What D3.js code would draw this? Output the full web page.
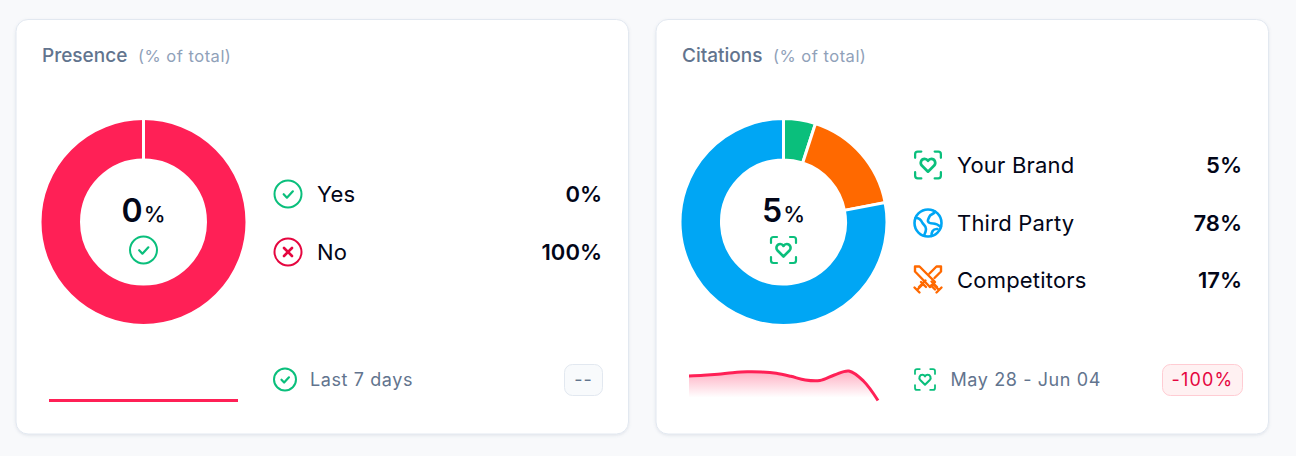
<!DOCTYPE html>
<html><head><meta charset="utf-8">
<script src="https://cdnjs.cloudflare.com/ajax/libs/d3/7.8.5/d3.min.js"></script>
<style>html,body{margin:0;padding:0;background:#f8f9fb;overflow:hidden}svg{display:block;font-family:Inter,sans-serif}</style>
</head><body><svg id="c" width="1296" height="456"></svg>
<script>
const presenceLabels = ["Yes","No"];
const presenceValues = [0,100];
const citationLabels = ["Your Brand","Third Party","Competitors"];
const citationValues = [5,78,17];
const citationDonutOrder = [0,2,1];
const presenceTrend = [0,0,0,0,0,0,0,0];
const citationTrend = [24.5,25.2,26.3,27.8,28.7,28.5,27.2,24.2,20.5,20,25.5,29.5,19.5,0];
const footerLabels = ["Last 7 days","May 28 - Jun 04"];
const badgeLabels = ["--","-100%"];
const titles = ["Presence","Citations"];
const subtitle = "(% of total)";

const GREEN="#0abf7c", RED="#ff2056", CRIM="#e5063f", BLUE="#00a6f4", ORANGE="#ff6900", INK="#020618", SLATE="#62748e", MUTE="#90a1b9";
const svg=d3.select("#c");
const defs=svg.append("defs");
const f=defs.append("filter").attr("id","sh").attr("x","-5%").attr("y","-5%").attr("width","110%").attr("height","110%");
f.append("feDropShadow").attr("dx",0).attr("dy",1).attr("stdDeviation",1.5).attr("flood-color","#64748b").attr("flood-opacity",.16);
const g=defs.append("linearGradient").attr("id","sp").attr("x1",0).attr("y1",0).attr("x2",0).attr("y2",1);
g.append("stop").attr("offset",0).attr("stop-color",RED).attr("stop-opacity",.36);
g.append("stop").attr("offset",.9).attr("stop-color",RED).attr("stop-opacity",0);

function check(s,x,y,r){
  const i=s.append("g").attr("transform",`translate(${x},${y})`).attr("fill","none").attr("stroke",GREEN);
  i.append("circle").attr("r",r).attr("stroke-width",2);
  i.append("path").attr("d",`M${-r*.32} ${r*.02}L${-r*.08} ${r*.27}L${r*.36} ${-r*.2}`).attr("stroke-width",2.2).attr("stroke-linecap","round").attr("stroke-linejoin","round");
}
function cross(s,x,y,r){
  const i=s.append("g").attr("transform",`translate(${x},${y})`).attr("fill","none").attr("stroke",CRIM);
  i.append("circle").attr("r",r).attr("stroke-width",2);
  i.append("path").attr("d",`M-4 -4L4 4M4 -4L-4 4`).attr("stroke-width",2.6).attr("stroke-linecap","round");
}
function face(s,x,y,k){
  const i=s.append("g").attr("transform",`translate(${x},${y}) scale(${k})`).attr("fill","none").attr("stroke",GREEN).attr("stroke-width",2.2).attr("stroke-linecap","round").attr("stroke-linejoin","round");
  i.append("path").attr("d","M-12.5 -7V-10.5Q-12.5 -13 -10 -13H-6.5M6.5 -13H10Q12.5 -13 12.5 -10.5V-7M12.5 7V10.5Q12.5 13 10 13H6.5M-6.5 13H-10Q-12.5 13 -12.5 10.5V7");
  i.append("path").attr("d","M0 6.5L-6 0.5C-8.2 -2 -6.6 -6 -3.3 -6C-1.6 -6 -0.6 -5 0 -4C0.6 -5 1.6 -6 3.3 -6C6.6 -6 8.2 -2 6 0.5Z").attr("stroke-width",2.6);
}
function globe(s,x,y){
  const i=s.append("g").attr("transform",`translate(${x},${y})`).attr("fill","none").attr("stroke",BLUE).attr("stroke-width",2.6).attr("stroke-linejoin","round").attr("stroke-linecap","round");
  i.append("circle").attr("r",13.5);
  i.append("path").attr("d","M-12.5 -5C-8 -5.5 -6.5 -2 -5.5 0C-4 2.5 -2 2.5 -2 6C-2 9 -3 10.5 -4 12.5M7 -11.5C6 -8.5 2.5 -9 1.5 -6.5C0.5 -4 -0.5 -3.5 0 -1.5C1 0.5 3 0.5 5 0.5C8 0.5 10 1.5 13 4M3.5 13C3.5 9.5 4.5 5.5 9.5 6");
}
function swords(s,x,y){
  const i=s.append("g").attr("transform",`translate(${x},${y})`).attr("fill","none").attr("stroke",ORANGE).attr("stroke-width",2.4).attr("stroke-linejoin","round").attr("stroke-linecap","round");
  i.append("path").attr("d","M-13 -13.5H-8.5L7 2L2 7L-13 -8.5ZM13 -13.5H8.5L1.5 -6.5M13 -13.5V-8.5L6.5 -2M-7 2L-2 7M-9 7L-2.5 0.5M-5.5 4.5L-11 10M-13.5 7.5L-8.5 12.5");
  i.append("path").attr("d","M9 7L3.5 1.5M5.5 4.5L11 10M13.5 7.5L8.5 12.5M2 7L4.5 4.5M3 5.5L7 9.5");
}

function card(x0,title,labels,vals,donutIdx,colors,centerText,centerIcon,rows,trend,footer,footerX,footerIcon,badge,badgeStyle,subX){
  const c=svg.append("g");
  c.append("rect").attr("x",x0).attr("y",19.5).attr("width",612.5).attr("height",414.5).attr("rx",12).attr("fill","#fff").attr("stroke","#e2e8f0").attr("filter","url(#sh)");
  c.append("text").attr("x",x0+26).attr("y",61.5).attr("font-size",19).attr("font-weight",500).attr("fill",SLATE).text(title);
  c.append("text").attr("x",subX).attr("y",61.5).attr("font-size",16.5).attr("letter-spacing",.5).attr("fill",MUTE).text(subtitle);
  const cx=x0+127.5, cy=222;
  const pie=d3.pie().sort(null).value(d=>d)(donutIdx.map(i=>vals[i]));
  const arc=d3.arc().innerRadius(62).outerRadius(103.5);
  c.append("g").attr("transform",`translate(${cx},${cy})`).selectAll("path").data(pie).join("path")
    .attr("d",arc).attr("fill",(d,i)=>colors[donutIdx[i]]).attr("stroke","#fff").attr("stroke-width",3);
  if(vals.some(v=>v===0)) c.append("line").attr("x1",cx).attr("x2",cx).attr("y1",cy-104).attr("y2",cy-60).attr("stroke","#fff").attr("stroke-width",3);
  const ct=c.append("text").attr("x",cx).attr("y",222).attr("text-anchor","middle").attr("fill",INK);
  ct.append("tspan").attr("font-size",32).attr("font-weight",600).text(centerText);
  ct.append("tspan").attr("font-size",22).attr("dx",1).attr("font-weight",500).text("%");
  centerIcon(c,cx,250);
  rows.forEach((r,i)=>{
    r.icon(c,x0+r.ix,r.y);
    c.append("text").attr("x",x0+301).attr("y",r.y+8).attr("font-size",22).attr("fill",INK).attr("letter-spacing",.2).text(labels[i]);
    c.append("text").attr("x",x0+586).attr("y",r.y+8).attr("text-anchor","end").attr("font-size",22).attr("font-weight",600).attr("fill",INK).text(vals[i]+"%");
  });
  const xs=d3.scalePoint().domain(d3.range(trend.length)).range(x0===16?[49,238]:[689,878]);
  const ys=d3.scaleLinear().domain([0,30]).range([400.5,370.5]);
  const curve=d3.curveCatmullRom.alpha(.5);
  if(d3.max(trend)>0) c.append("path").attr("d",d3.area().x((d,i)=>xs(i)).y0(400).y1(d=>ys(d)).curve(curve)(trend)).attr("fill","url(#sp)");
  c.append("path").attr("d",d3.line().x((d,i)=>xs(i)).y(d=>ys(d)).curve(curve)(trend)).attr("fill","none").attr("stroke",RED).attr("stroke-width",3);
  footerIcon(c);
  c.append("text").attr("x",footerX).attr("y",385.5).attr("font-size",18).attr("letter-spacing",.6).attr("fill",SLATE).text(footer);
  const bw=badgeStyle.w, bx=x0+587-bw;
  c.append("rect").attr("x",bx+.5).attr("y",364.5).attr("width",bw-1).attr("height",31).attr("rx",8).attr("fill",badgeStyle.fill).attr("stroke",badgeStyle.stroke);
  c.append("text").attr("x",bx+bw/2).attr("y",386).attr("text-anchor","middle").attr("font-size",18).attr("letter-spacing",badgeStyle.ls).attr("fill",badgeStyle.text).text(badge);
}

card(16,titles[0],presenceLabels,presenceValues,[0,1],[GREEN,RED],"0",(s,x,y)=>check(s,x,y,13.5),
  [{icon:(s,x,y)=>check(s,x,y,13.5),ix:272,y:194},{icon:(s,x,y)=>cross(s,x,y,13.5),ix:272,y:252}],
  presenceTrend,footerLabels[0],310,s=>check(s,285,379.5,11),badgeLabels[0],{w:39,fill:"#f8fafc",stroke:"#e2e8f0",text:SLATE,ls:1},138);
card(656,titles[1],citationLabels,citationValues,citationDonutOrder,[GREEN,BLUE,ORANGE],"5",(s,x,y)=>face(s,x,y,1),
  [{icon:(s,x,y)=>face(s,x,y,1.03),ix:272,y:165},{icon:(s,x,y)=>globe(s,x,y),ix:272,y:223},{icon:(s,x,y)=>swords(s,x,y),ix:272,y:280}],
  citationTrend,footerLabels[1],950.5,s=>face(s,925,379.5,.8),badgeLabels[1],{w:81,fill:"#fff1f2",stroke:"#ffccd3",text:"#e5063f",ls:1.2},773);
</script></body></html>
